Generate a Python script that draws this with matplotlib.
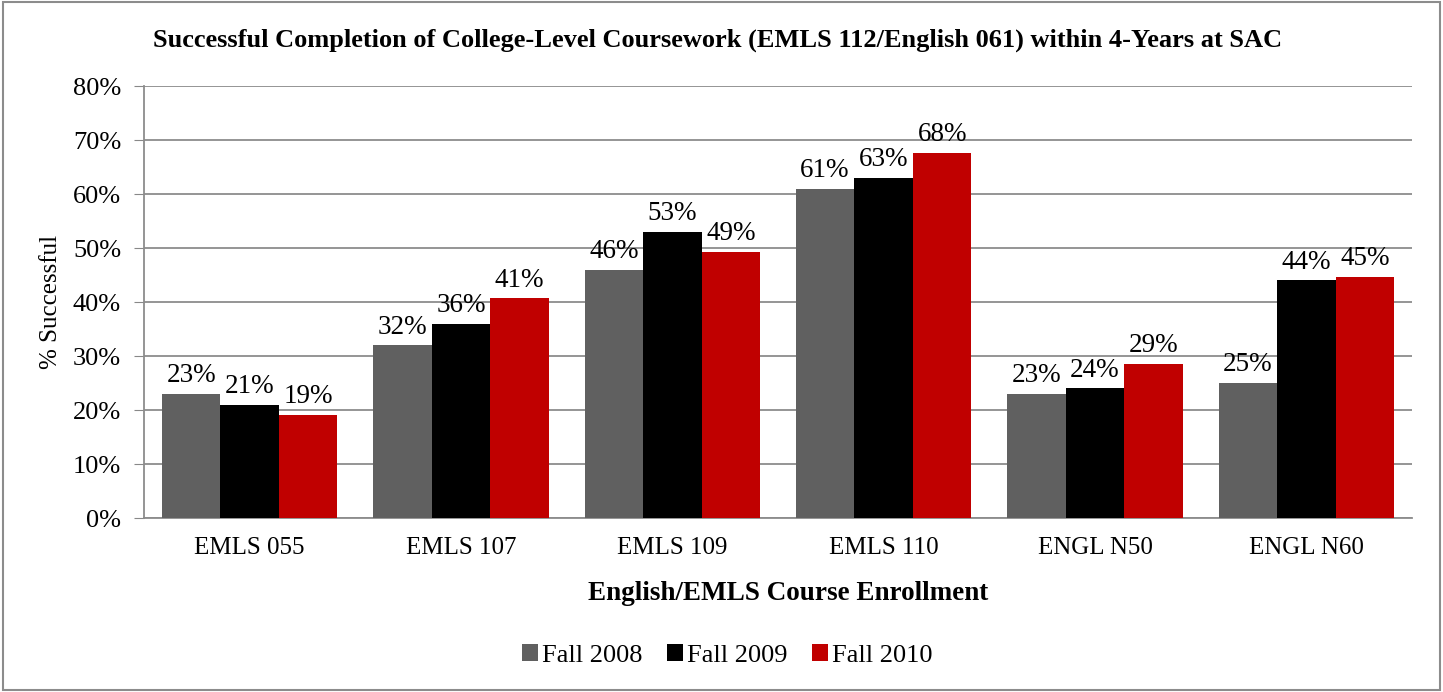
import numpy as np
import matplotlib.pyplot as plt
from matplotlib.patches import Rectangle
from matplotlib.ticker import PercentFormatter

courses = ['EMLS 055', 'EMLS 107', 'EMLS 109', 'EMLS 110', 'ENGL N50', 'ENGL N60']
fall_2008 = [23.0, 32.0, 46.0, 61.0, 23.0, 25.0]
fall_2009 = [21.0, 36.0, 53.0, 63.0, 24.0, 44.0]
fall_2010 = [19.1, 40.7, 49.3, 67.6, 28.6, 44.7]
series = ['Fall 2008', 'Fall 2009', 'Fall 2010']
colors = ['#606060', '#000000', '#C00000']

plt.rcParams['font.family'] = ['Liberation Serif', 'DejaVu Serif']

fig = plt.figure(figsize=(14.43, 6.92), dpi=100)
ax = fig.add_axes([0.0998, 0.2514, 0.8787, 0.6243])

x = np.arange(len(courses))
w = 0.277
for i, (vals, name, col) in enumerate(zip([fall_2008, fall_2009, fall_2010], series, colors)):
    bars = ax.bar(x + (i - 1) * w, vals, w, color=col, label=name, zorder=3)
    for b, v in zip(bars, vals):
        ax.annotate('%d%%' % round(v), (b.get_x() + b.get_width() / 2, v),
                    xytext=(0, 4), textcoords='offset points',
                    ha='center', va='bottom', fontsize=19.5, zorder=4)

ax.set_xlim(-0.5, len(courses) - 0.5)
ax.set_ylim(0, 80)
ax.set_yticks(np.arange(0, 81, 10))
ax.yaxis.set_major_formatter(PercentFormatter(decimals=0))
ax.set_xticks(x)
ax.set_xticklabels(courses)
ax.tick_params(axis='y', labelsize=19, length=7, color='#888888', pad=9.5)
ax.tick_params(axis='x', labelsize=18, length=0, pad=14)
ax.grid(axis='y', color='#8c8c8c', linewidth=1.3, zorder=0)
for s in ['top', 'right']:
    ax.spines[s].set_visible(False)
for s in ['left', 'bottom']:
    ax.spines[s].set_color('#8c8c8c')
    ax.spines[s].set_linewidth(1.3)

ax.set_ylabel('% Successful', fontsize=18, labelpad=8)
fig.text(0.546, 0.143, 'English/EMLS Course Enrollment', fontsize=19.5,
         fontweight='bold', ha='center', va='center')
fig.text(0.497, 0.942, 'Successful Completion of College-Level Coursework (EMLS 112/English 061) within 4-Years at SAC',
         fontsize=19, fontweight='bold', ha='center', va='center')

fig.legend(loc='center', bbox_to_anchor=(0.504, 0.053), ncol=3, frameon=False,
           fontsize=19, handlelength=0.6, handleheight=0.6, handletextpad=0.15,
           columnspacing=0.95)

fig.patches.append(Rectangle((0.002, 0.003), 0.996, 0.994, transform=fig.transFigure,
                             fill=False, edgecolor='#8c8c8c', linewidth=1.5))

fig.savefig('out.png', dpi=100)
